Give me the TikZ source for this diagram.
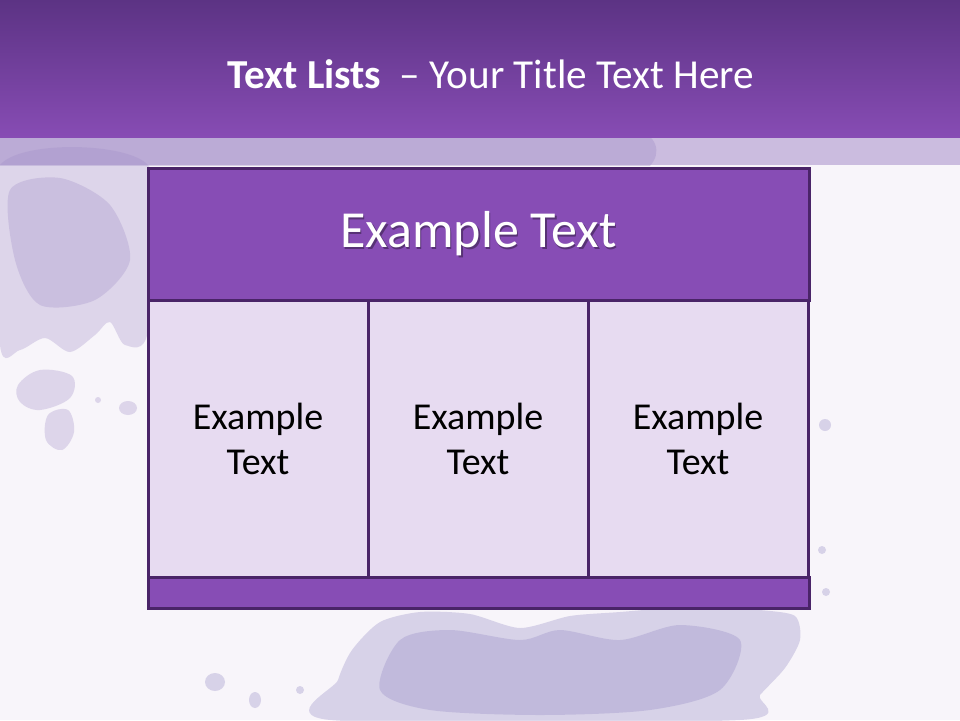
\documentclass[tikz,border=0pt]{standalone}
\usepackage{fontspec}
\setmainfont{Carlito}
\definecolor{hdtop}{HTML}{5C3384}
\definecolor{hdbot}{HTML}{874CB4}
\definecolor{band}{HTML}{CBBCDF}
\definecolor{bgc}{HTML}{F8F5FA}
\definecolor{texa}{HTML}{A08DC6}
\definecolor{texb}{HTML}{948AC4}
\definecolor{edgec}{HTML}{4A2468}
\definecolor{headfill}{HTML}{874DB5}
\definecolor{cellfill}{HTML}{E7DBF1}
\tikzset{
  tbox/.style={rectangle, draw=edgec, line width=3pt, inner sep=0pt},
  headbox/.style={tbox, fill=headfill, minimum width=661pt, minimum height=132pt},
  cellbox/.style={tbox, fill=cellfill, minimum width=220pt, minimum height=277pt,
     text=black, align=center, font=\fontsize{38}{45}\selectfont},
  footbox/.style={tbox, fill=headfill, minimum width=661pt, minimum height=31pt},
  blob/.style={fill=texa, opacity=.3},
  blobb/.style={fill=texb, opacity=.32},
}
\begin{document}
\begin{tikzpicture}[x=1pt,y=-1pt]
\useasboundingbox (0,0) rectangle (960,720);
\fill[bgc] (0,0) rectangle (960,720);
\fill[band] (0,137) rectangle (960,165);
% texture in the band
\begin{scope}
\clip (0,137) rectangle (960,165);
\fill[fill=texa, opacity=.35] (0,130) -- (640,130) .. controls (662,140) and (660,160) .. (645,170) -- (0,170) -- cycle;
\end{scope}
% texture on left
\fill[blob] plot[smooth cycle, tension=.5] coordinates {(0,165) (148,165) (148,330) (125,345) (110,322) (95,335) (70,352) (45,338) (20,350) (0,345)};
\fill[blob] plot[smooth cycle, tension=.5] coordinates {(10,190) (60,178) (110,205) (130,260) (95,300) (40,305) (15,260)};
\fill[blob] plot[smooth cycle, tension=.6] coordinates {(18,385) (40,370) (72,376) (70,398) (40,410) (20,402)};
\fill[blob] plot[smooth cycle, tension=.6] coordinates {(48,415) (68,410) (74,432) (62,450) (46,440)};
\fill[blob] (128,408) ellipse [x radius=9pt, y radius=7pt];
\fill[blob] (98,400) circle [radius=3pt];
% texture at the bottom
\fill[blobb] plot[smooth cycle, tension=.45] coordinates {(330,720) (338,680) (352,650) (380,622) (420,612) (470,614) (520,628) (570,616) (620,612) (700,606) (760,610) (795,616) (800,640) (785,668) (760,695) (740,720)};
\fill[blobb] plot[smooth cycle, tension=.5] coordinates {(400,640) (450,630) (520,640) (560,630) (620,640) (680,625) (740,640) (720,690) (650,710) (540,715) (430,710) (380,690)};
\fill[blobb] (215,682) ellipse [x radius=10pt, y radius=9pt];
\fill[blobb] (255,700) ellipse [x radius=6pt, y radius=8pt];
\fill[blobb] (300,690) circle [radius=4pt];
\fill[blobb] (825,425) circle [radius=6pt];
\fill[blobb] (822,550) circle [radius=4pt];
\fill[blobb] (826,592) circle [radius=4pt];
% header band
\shade[top color=hdtop, bottom color=hdbot] (0,0) rectangle (960,137);
\node[text=white, font=\fontsize{41.2}{50}\selectfont] (title) at (491,74)
  {\textbf{Text Lists}\ \ – Your Title Text Here};
% table
\node[headbox] (head) at (478.5,234) {};
\node[text=black, opacity=.35, font=\fontsize{52}{60}\selectfont] (headshadow) at (480,235.5) {Example Text};
\node[text=white, font=\fontsize{52}{60}\selectfont] (headtext) at (478.5,234) {Example Text};
\node[cellbox] (c1) at (258,438.5) {Example\\Text};
\node[cellbox] (c2) at (478,438.5) {Example\\Text};
\node[cellbox] (c3) at (698,438.5) {Example\\Text};
\node[footbox] (foot) at (478.5,592.5) {};
\end{tikzpicture}
\end{document}
